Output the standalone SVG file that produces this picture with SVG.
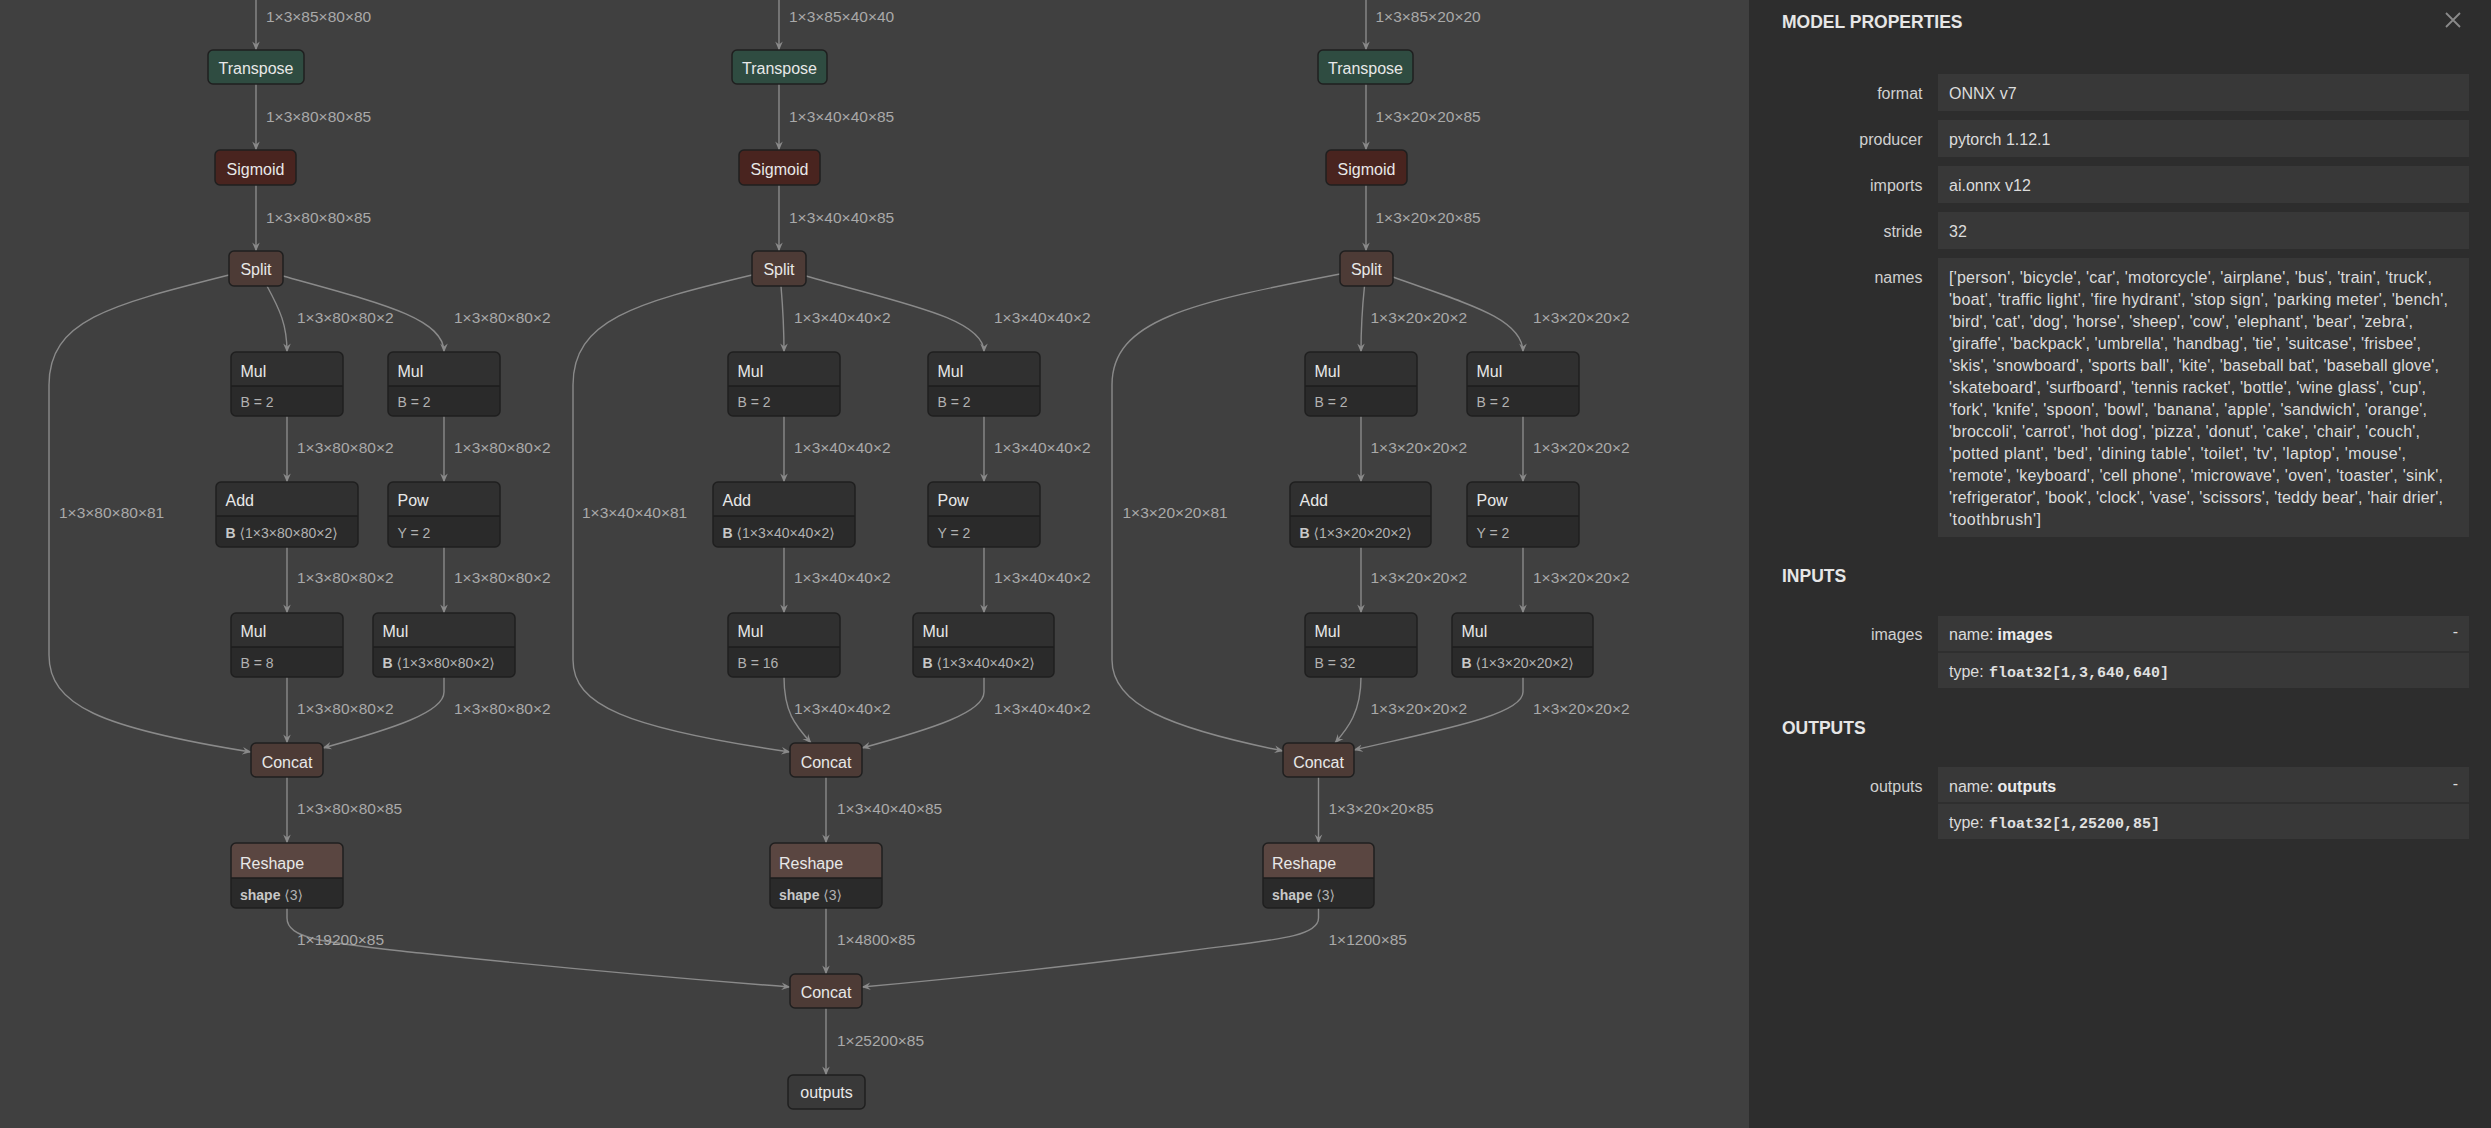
<svg xmlns="http://www.w3.org/2000/svg" width="2491" height="1128" viewBox="0 0 2491 1128">
<defs>
<style>
.bg{fill:#404040}
.e{fill:none;stroke:#8a8a8a;stroke-width:1.4;marker-end:url(#arr)}
.el{font-family:"Liberation Sans","DejaVu Sans",Arial,sans-serif;font-size:15.5px;fill:#a9a9a9}
.bd{fill:none;stroke:#1f1f1f;stroke-width:1.5}
.tr{fill:#2f4c41;stroke:#1f1f1f;stroke-width:1.5}
.sg{fill:#49241f;stroke:#1f1f1f;stroke-width:1.5}
.sh{fill:#4d3b36;stroke:#1f1f1f;stroke-width:1.5}
.io{fill:#393939;stroke:#1f1f1f;stroke-width:1.5}
.body{fill:#2a2a2a}
.hd{fill:#303030}
.hs{fill:#5a4641}
.sep{stroke:#1c1c1c;stroke-width:1.5}
.t{font-family:"Liberation Sans","DejaVu Sans",Arial,sans-serif;font-size:16px;fill:#e8e8e8}
.tc{text-anchor:middle}
.a{font-family:"Liberation Sans","DejaVu Sans",Arial,sans-serif;font-size:14px;fill:#b2b2b2}
.ab{font-weight:bold;fill:#c8c8c8}
.panel{fill:#2d2d2d}
.vb{fill:#383838}
.ph{font-family:"Liberation Sans","DejaVu Sans",Arial,sans-serif;font-size:17.5px;font-weight:bold;fill:#e6e6e6}
.pl{font-family:"Liberation Sans","DejaVu Sans",Arial,sans-serif;font-size:16px;fill:#d0d0d0;text-anchor:end}
.pv{font-family:"Liberation Sans","DejaVu Sans",Arial,sans-serif;font-size:16px;fill:#dcdcdc}
.pm{font-family:"Liberation Mono","DejaVu Sans Mono",monospace;font-size:15px;font-weight:bold;fill:#e0e0e0}
.psep{stroke:#2d2d2d;stroke-width:1.5}
</style>
<marker id="arr" viewBox="0 0 10 10" refX="9.5" refY="5" markerWidth="9" markerHeight="9" markerUnits="userSpaceOnUse" orient="auto">
<path d="M0,0.8 L10,5 L0,9.2 L3.5,5 Z" fill="#8a8a8a"/>
</marker>
</defs>
<rect class="bg" x="0" y="0" width="2491" height="1128"/>

<g id="connectors">
<path class="e" d="M256,0 V50"/>
<path class="e" d="M256,84 V150"/>
<path class="e" d="M256,185 V251"/>
<path class="e" d="M267,286 C280,310 287,325 287,352"/>
<path class="e" d="M283,276 C380,303 444,318 444,352"/>
<path class="e" d="M229,275 C110,305 49,320 49,385 V655 C49,705 100,728 251,752"/>
<path class="e" d="M287,416 V482"/>
<path class="e" d="M444,416 V482"/>
<path class="e" d="M287,547 V613"/>
<path class="e" d="M444,547 V613"/>
<path class="e" d="M287,677 V743"/>
<path class="e" d="M444,677 V692 C444,712 395,728 323,748"/>
<path class="e" d="M287,777 V843"/>
<path class="e" d="M287,908 V918 C287,940 330,943 420,953 C560,968 700,980 790,987"/>
<path class="e" d="M779,0 V50"/>
<path class="e" d="M779,84 V150"/>
<path class="e" d="M779,185 V251"/>
<path class="e" d="M781,286 C783,310 784,330 784,352"/>
<path class="e" d="M806,276 C900,303 984,318 984,352"/>
<path class="e" d="M752,275 C635,303 573,320 573,385 V660 C573,705 625,728 790,752"/>
<path class="e" d="M784,416 V482"/>
<path class="e" d="M984,416 V482"/>
<path class="e" d="M784,547 V613"/>
<path class="e" d="M984,547 V613"/>
<path class="e" d="M784,677 C784,712 795,725 811,743"/>
<path class="e" d="M984,677 V692 C984,712 935,728 862,748"/>
<path class="e" d="M826,777 V843"/>
<path class="e" d="M826,908 V974"/>
<path class="e" d="M826,1008 V1075"/>
<path class="e" d="M1366,0 V50"/>
<path class="e" d="M1366,84 V150"/>
<path class="e" d="M1366,185 V251"/>
<path class="e" d="M1364.5,286 C1362,310 1361,330 1361,352"/>
<path class="e" d="M1393,277 C1465,303 1523,318 1523,352"/>
<path class="e" d="M1340,274 C1190,303 1112,320 1112,385 V660 C1112,705 1170,728 1283,751"/>
<path class="e" d="M1361,416 V482"/>
<path class="e" d="M1523,416 V482"/>
<path class="e" d="M1361,547 V613"/>
<path class="e" d="M1523,547 V613"/>
<path class="e" d="M1361,677 C1361,712 1348,728 1335,743"/>
<path class="e" d="M1523,677 V692 C1523,715 1440,730 1354,750"/>
<path class="e" d="M1318.5,777 V843"/>
<path class="e" d="M1318.5,908 V918 C1318.5,938 1270,940 1180,952 C1040,970 940,980 862,987"/>
</g>

<g id="edge-labels">
<text class="el" x="266" y="22">1×3×85×80×80</text>
<text class="el" x="266" y="122">1×3×80×80×85</text>
<text class="el" x="266" y="223">1×3×80×80×85</text>
<text class="el" x="297" y="323">1×3×80×80×2</text>
<text class="el" x="454" y="323">1×3×80×80×2</text>
<text class="el" x="297" y="453">1×3×80×80×2</text>
<text class="el" x="454" y="453">1×3×80×80×2</text>
<text class="el" x="59" y="518">1×3×80×80×81</text>
<text class="el" x="297" y="583">1×3×80×80×2</text>
<text class="el" x="454" y="583">1×3×80×80×2</text>
<text class="el" x="297" y="714">1×3×80×80×2</text>
<text class="el" x="454" y="714">1×3×80×80×2</text>
<text class="el" x="297" y="814">1×3×80×80×85</text>
<text class="el" x="297" y="945">1×19200×85</text>

<text class="el" x="789" y="22">1×3×85×40×40</text>
<text class="el" x="789" y="122">1×3×40×40×85</text>
<text class="el" x="789" y="223">1×3×40×40×85</text>
<text class="el" x="794" y="323">1×3×40×40×2</text>
<text class="el" x="994" y="323">1×3×40×40×2</text>
<text class="el" x="794" y="453">1×3×40×40×2</text>
<text class="el" x="994" y="453">1×3×40×40×2</text>
<text class="el" x="582" y="518">1×3×40×40×81</text>
<text class="el" x="794" y="583">1×3×40×40×2</text>
<text class="el" x="994" y="583">1×3×40×40×2</text>
<text class="el" x="794" y="714">1×3×40×40×2</text>
<text class="el" x="994" y="714">1×3×40×40×2</text>
<text class="el" x="837" y="814">1×3×40×40×85</text>
<text class="el" x="837" y="945">1×4800×85</text>
<text class="el" x="837" y="1046">1×25200×85</text>

<text class="el" x="1375.5" y="22">1×3×85×20×20</text>
<text class="el" x="1375.5" y="122">1×3×20×20×85</text>
<text class="el" x="1375.5" y="223">1×3×20×20×85</text>
<text class="el" x="1370.5" y="323">1×3×20×20×2</text>
<text class="el" x="1533" y="323">1×3×20×20×2</text>
<text class="el" x="1370.5" y="453">1×3×20×20×2</text>
<text class="el" x="1533" y="453">1×3×20×20×2</text>
<text class="el" x="1122.5" y="518">1×3×20×20×81</text>
<text class="el" x="1370.5" y="583">1×3×20×20×2</text>
<text class="el" x="1533" y="583">1×3×20×20×2</text>
<text class="el" x="1370.5" y="714">1×3×20×20×2</text>
<text class="el" x="1533" y="714">1×3×20×20×2</text>
<text class="el" x="1328.5" y="814">1×3×20×20×85</text>
<text class="el" x="1328.5" y="945">1×1200×85</text>
</g>

<g id="transpose_0"><rect class="tr" x="208" y="50" width="96" height="34" rx="5"/><text class="t tc" x="256" y="74">Transpose</text></g>
<g id="sigmoid_0"><rect class="sg" x="215" y="150" width="81" height="35" rx="5"/><text class="t tc" x="255.5" y="175">Sigmoid</text></g>
<g id="split_0"><rect class="sh" x="229" y="251" width="54" height="35" rx="5"/><text class="t tc" x="256" y="275">Split</text></g>
<g id="mul_0a"><rect class="body" x="231" y="352" width="112" height="64" rx="5"/><path class="hd" d="M231,386 V357 Q231,352 236,352 H338 Q343,352 343,357 V386 Z"/><line class="sep" x1="231" y1="386" x2="343" y2="386"/><rect class="bd" x="231" y="352" width="112" height="64" rx="5"/><text class="t" x="240.5" y="377">Mul</text><text class="a" x="240.5" y="407">B = 2</text></g>
<g id="mul_0b"><rect class="body" x="388" y="352" width="112" height="64" rx="5"/><path class="hd" d="M388,386 V357 Q388,352 393,352 H495 Q500,352 500,357 V386 Z"/><line class="sep" x1="388" y1="386" x2="500" y2="386"/><rect class="bd" x="388" y="352" width="112" height="64" rx="5"/><text class="t" x="397.5" y="377">Mul</text><text class="a" x="397.5" y="407">B = 2</text></g>
<g id="add_0"><rect class="body" x="216" y="482" width="142" height="65" rx="5"/><path class="hd" d="M216,516 V487 Q216,482 221,482 H353 Q358,482 358,487 V516 Z"/><line class="sep" x1="216" y1="516" x2="358" y2="516"/><rect class="bd" x="216" y="482" width="142" height="65" rx="5"/><text class="t" x="225.5" y="506">Add</text><text class="a" x="225.5" y="537.5"><tspan class="ab">B</tspan> ⟨1×3×80×80×2⟩</text></g>
<g id="pow_0"><rect class="body" x="388" y="482" width="112" height="65" rx="5"/><path class="hd" d="M388,516 V487 Q388,482 393,482 H495 Q500,482 500,487 V516 Z"/><line class="sep" x1="388" y1="516" x2="500" y2="516"/><rect class="bd" x="388" y="482" width="112" height="65" rx="5"/><text class="t" x="397.5" y="506">Pow</text><text class="a" x="397.5" y="537.5">Y = 2</text></g>
<g id="mul_0c"><rect class="body" x="231" y="613" width="112" height="64" rx="5"/><path class="hd" d="M231,647 V618 Q231,613 236,613 H338 Q343,613 343,618 V647 Z"/><line class="sep" x1="231" y1="647" x2="343" y2="647"/><rect class="bd" x="231" y="613" width="112" height="64" rx="5"/><text class="t" x="240.5" y="637">Mul</text><text class="a" x="240.5" y="668">B = 8</text></g>
<g id="mul_0d"><rect class="body" x="373" y="613" width="142" height="64" rx="5"/><path class="hd" d="M373,647 V618 Q373,613 378,613 H510 Q515,613 515,618 V647 Z"/><line class="sep" x1="373" y1="647" x2="515" y2="647"/><rect class="bd" x="373" y="613" width="142" height="64" rx="5"/><text class="t" x="382.5" y="637">Mul</text><text class="a" x="382.5" y="668"><tspan class="ab">B</tspan> ⟨1×3×80×80×2⟩</text></g>
<g id="concat_0"><rect class="sh" x="251" y="743" width="72" height="34" rx="5"/><text class="t tc" x="287" y="767.5">Concat</text></g>
<g id="reshape_0"><rect class="body" x="231" y="843" width="112" height="65" rx="5"/><path class="hs" d="M231,878 V848 Q231,843 236,843 H338 Q343,843 343,848 V878 Z"/><line class="sep" x1="231" y1="878" x2="343" y2="878"/><rect class="bd" x="231" y="843" width="112" height="65" rx="5"/><text class="t" x="240" y="869">Reshape</text><text class="a" x="240" y="900"><tspan class="ab">shape</tspan> ⟨3⟩</text></g>

<g id="transpose_1"><rect class="tr" x="732" y="50" width="95" height="34" rx="5"/><text class="t tc" x="779.5" y="74">Transpose</text></g>
<g id="sigmoid_1"><rect class="sg" x="739" y="150" width="81" height="35" rx="5"/><text class="t tc" x="779.5" y="175">Sigmoid</text></g>
<g id="split_1"><rect class="sh" x="752" y="251" width="54" height="35" rx="5"/><text class="t tc" x="779" y="275">Split</text></g>
<g id="mul_1a"><rect class="body" x="728" y="352" width="112" height="64" rx="5"/><path class="hd" d="M728,386 V357 Q728,352 733,352 H835 Q840,352 840,357 V386 Z"/><line class="sep" x1="728" y1="386" x2="840" y2="386"/><rect class="bd" x="728" y="352" width="112" height="64" rx="5"/><text class="t" x="737.5" y="377">Mul</text><text class="a" x="737.5" y="407">B = 2</text></g>
<g id="mul_1b"><rect class="body" x="928" y="352" width="112" height="64" rx="5"/><path class="hd" d="M928,386 V357 Q928,352 933,352 H1035 Q1040,352 1040,357 V386 Z"/><line class="sep" x1="928" y1="386" x2="1040" y2="386"/><rect class="bd" x="928" y="352" width="112" height="64" rx="5"/><text class="t" x="937.5" y="377">Mul</text><text class="a" x="937.5" y="407">B = 2</text></g>
<g id="add_1"><rect class="body" x="713" y="482" width="142" height="65" rx="5"/><path class="hd" d="M713,516 V487 Q713,482 718,482 H850 Q855,482 855,487 V516 Z"/><line class="sep" x1="713" y1="516" x2="855" y2="516"/><rect class="bd" x="713" y="482" width="142" height="65" rx="5"/><text class="t" x="722.5" y="506">Add</text><text class="a" x="722.5" y="537.5"><tspan class="ab">B</tspan> ⟨1×3×40×40×2⟩</text></g>
<g id="pow_1"><rect class="body" x="928" y="482" width="112" height="65" rx="5"/><path class="hd" d="M928,516 V487 Q928,482 933,482 H1035 Q1040,482 1040,487 V516 Z"/><line class="sep" x1="928" y1="516" x2="1040" y2="516"/><rect class="bd" x="928" y="482" width="112" height="65" rx="5"/><text class="t" x="937.5" y="506">Pow</text><text class="a" x="937.5" y="537.5">Y = 2</text></g>
<g id="mul_1c"><rect class="body" x="728" y="613" width="112" height="64" rx="5"/><path class="hd" d="M728,647 V618 Q728,613 733,613 H835 Q840,613 840,618 V647 Z"/><line class="sep" x1="728" y1="647" x2="840" y2="647"/><rect class="bd" x="728" y="613" width="112" height="64" rx="5"/><text class="t" x="737.5" y="637">Mul</text><text class="a" x="737.5" y="668">B = 16</text></g>
<g id="mul_1d"><rect class="body" x="913" y="613" width="141" height="64" rx="5"/><path class="hd" d="M913,647 V618 Q913,613 918,613 H1049 Q1054,613 1054,618 V647 Z"/><line class="sep" x1="913" y1="647" x2="1054" y2="647"/><rect class="bd" x="913" y="613" width="141" height="64" rx="5"/><text class="t" x="922.5" y="637">Mul</text><text class="a" x="922.5" y="668"><tspan class="ab">B</tspan> ⟨1×3×40×40×2⟩</text></g>
<g id="concat_1"><rect class="sh" x="790" y="743" width="72" height="34" rx="5"/><text class="t tc" x="826" y="767.5">Concat</text></g>
<g id="reshape_1"><rect class="body" x="770" y="843" width="112" height="65" rx="5"/><path class="hs" d="M770,878 V848 Q770,843 775,843 H877 Q882,843 882,848 V878 Z"/><line class="sep" x1="770" y1="878" x2="882" y2="878"/><rect class="bd" x="770" y="843" width="112" height="65" rx="5"/><text class="t" x="779" y="869">Reshape</text><text class="a" x="779" y="900"><tspan class="ab">shape</tspan> ⟨3⟩</text></g>
<g id="concat_final"><rect class="sh" x="790" y="974" width="72" height="34" rx="5"/><text class="t tc" x="826" y="998">Concat</text></g>
<g id="outputs"><rect class="io" x="788" y="1075" width="77" height="34" rx="5"/><text class="t tc" x="826.5" y="1098">outputs</text></g>

<g id="transpose_2"><rect class="tr" x="1318" y="50" width="95" height="34" rx="5"/><text class="t tc" x="1365.5" y="74">Transpose</text></g>
<g id="sigmoid_2"><rect class="sg" x="1326" y="150" width="81" height="35" rx="5"/><text class="t tc" x="1366.5" y="175">Sigmoid</text></g>
<g id="split_2"><rect class="sh" x="1340" y="251" width="53" height="35" rx="5"/><text class="t tc" x="1366.5" y="275">Split</text></g>
<g id="mul_2a"><rect class="body" x="1305" y="352" width="112" height="64" rx="5"/><path class="hd" d="M1305,386 V357 Q1305,352 1310,352 H1412 Q1417,352 1417,357 V386 Z"/><line class="sep" x1="1305" y1="386" x2="1417" y2="386"/><rect class="bd" x="1305" y="352" width="112" height="64" rx="5"/><text class="t" x="1314.5" y="377">Mul</text><text class="a" x="1314.5" y="407">B = 2</text></g>
<g id="mul_2b"><rect class="body" x="1467" y="352" width="112" height="64" rx="5"/><path class="hd" d="M1467,386 V357 Q1467,352 1472,352 H1574 Q1579,352 1579,357 V386 Z"/><line class="sep" x1="1467" y1="386" x2="1579" y2="386"/><rect class="bd" x="1467" y="352" width="112" height="64" rx="5"/><text class="t" x="1476.5" y="377">Mul</text><text class="a" x="1476.5" y="407">B = 2</text></g>
<g id="add_2"><rect class="body" x="1290" y="482" width="141" height="65" rx="5"/><path class="hd" d="M1290,516 V487 Q1290,482 1295,482 H1426 Q1431,482 1431,487 V516 Z"/><line class="sep" x1="1290" y1="516" x2="1431" y2="516"/><rect class="bd" x="1290" y="482" width="141" height="65" rx="5"/><text class="t" x="1299.5" y="506">Add</text><text class="a" x="1299.5" y="537.5"><tspan class="ab">B</tspan> ⟨1×3×20×20×2⟩</text></g>
<g id="pow_2"><rect class="body" x="1467" y="482" width="112" height="65" rx="5"/><path class="hd" d="M1467,516 V487 Q1467,482 1472,482 H1574 Q1579,482 1579,487 V516 Z"/><line class="sep" x1="1467" y1="516" x2="1579" y2="516"/><rect class="bd" x="1467" y="482" width="112" height="65" rx="5"/><text class="t" x="1476.5" y="506">Pow</text><text class="a" x="1476.5" y="537.5">Y = 2</text></g>
<g id="mul_2c"><rect class="body" x="1305" y="613" width="112" height="64" rx="5"/><path class="hd" d="M1305,647 V618 Q1305,613 1310,613 H1412 Q1417,613 1417,618 V647 Z"/><line class="sep" x1="1305" y1="647" x2="1417" y2="647"/><rect class="bd" x="1305" y="613" width="112" height="64" rx="5"/><text class="t" x="1314.5" y="637">Mul</text><text class="a" x="1314.5" y="668">B = 32</text></g>
<g id="mul_2d"><rect class="body" x="1452" y="613" width="141" height="64" rx="5"/><path class="hd" d="M1452,647 V618 Q1452,613 1457,613 H1588 Q1593,613 1593,618 V647 Z"/><line class="sep" x1="1452" y1="647" x2="1593" y2="647"/><rect class="bd" x="1452" y="613" width="141" height="64" rx="5"/><text class="t" x="1461.5" y="637">Mul</text><text class="a" x="1461.5" y="668"><tspan class="ab">B</tspan> ⟨1×3×20×20×2⟩</text></g>
<g id="concat_2"><rect class="sh" x="1283" y="743" width="71" height="34" rx="5"/><text class="t tc" x="1318.5" y="767.5">Concat</text></g>
<g id="reshape_2"><rect class="body" x="1263" y="843" width="111" height="65" rx="5"/><path class="hs" d="M1263,878 V848 Q1263,843 1268,843 H1369 Q1374,843 1374,848 V878 Z"/><line class="sep" x1="1263" y1="878" x2="1374" y2="878"/><rect class="bd" x="1263" y="843" width="111" height="65" rx="5"/><text class="t" x="1272" y="869">Reshape</text><text class="a" x="1272" y="900"><tspan class="ab">shape</tspan> ⟨3⟩</text></g>

<g id="model-properties">
<rect class="panel" x="1749" y="0" width="742" height="1128"/>
<text class="ph" x="1782" y="28">MODEL PROPERTIES</text>
<path d="M2446,13 L2460,27 M2460,13 L2446,27" stroke="#8a8a8a" stroke-width="1.8" fill="none"/>
<text class="pl" x="1922.5" y="99">format</text>
<rect class="vb" x="1938" y="74" width="531" height="37"/>
<text class="pv" x="1949" y="99">ONNX v7</text>
<text class="pl" x="1922.5" y="145">producer</text>
<rect class="vb" x="1938" y="120" width="531" height="37"/>
<text class="pv" x="1949" y="145">pytorch 1.12.1</text>
<text class="pl" x="1922.5" y="191">imports</text>
<rect class="vb" x="1938" y="166" width="531" height="37"/>
<text class="pv" x="1949" y="191">ai.onnx v12</text>
<text class="pl" x="1922.5" y="237">stride</text>
<rect class="vb" x="1938" y="212" width="531" height="37"/>
<text class="pv" x="1949" y="237">32</text>
<text class="pl" x="1922.5" y="283">names</text>
<rect class="vb" x="1938" y="258" width="531" height="279"/>
<text class="pv" x="1949" y="283" textLength="483">['person', 'bicycle', 'car', 'motorcycle', 'airplane', 'bus', 'train', 'truck',</text>
<text class="pv" x="1949" y="305" textLength="499">'boat', 'traffic light', 'fire hydrant', 'stop sign', 'parking meter', 'bench',</text>
<text class="pv" x="1949" y="327" textLength="464">'bird', 'cat', 'dog', 'horse', 'sheep', 'cow', 'elephant', 'bear', 'zebra',</text>
<text class="pv" x="1949" y="349" textLength="472">'giraffe', 'backpack', 'umbrella', 'handbag', 'tie', 'suitcase', 'frisbee',</text>
<text class="pv" x="1949" y="371" textLength="490">'skis', 'snowboard', 'sports ball', 'kite', 'baseball bat', 'baseball glove',</text>
<text class="pv" x="1949" y="393" textLength="477">'skateboard', 'surfboard', 'tennis racket', 'bottle', 'wine glass', 'cup',</text>
<text class="pv" x="1949" y="415" textLength="478">'fork', 'knife', 'spoon', 'bowl', 'banana', 'apple', 'sandwich', 'orange',</text>
<text class="pv" x="1949" y="437" textLength="471">'broccoli', 'carrot', 'hot dog', 'pizza', 'donut', 'cake', 'chair', 'couch',</text>
<text class="pv" x="1949" y="459" textLength="457">'potted plant', 'bed', 'dining table', 'toilet', 'tv', 'laptop', 'mouse',</text>
<text class="pv" x="1949" y="481" textLength="494">'remote', 'keyboard', 'cell phone', 'microwave', 'oven', 'toaster', 'sink',</text>
<text class="pv" x="1949" y="503" textLength="494">'refrigerator', 'book', 'clock', 'vase', 'scissors', 'teddy bear', 'hair drier',</text>
<text class="pv" x="1949" y="525" textLength="92">'toothbrush']</text>
</g>

<g id="inputs">
<text class="ph" x="1782" y="582">INPUTS</text>
<text class="pl" x="1922.5" y="640">images</text>
<rect class="vb" x="1938" y="616" width="531" height="72"/>
<line class="psep" x1="1938" y1="652" x2="2469" y2="652"/>
<text class="pv" x="1949" y="640">name: <tspan x="1997.5" font-weight="bold" fill="#ececec">images</tspan></text>
<text class="pv" x="2455.5" y="637" text-anchor="middle" fill="#9a9a9a">-</text>
<text class="pv" x="1949" y="677">type: </text>
<text class="pm" x="1989" y="677">float32[1,3,640,640]</text>
</g>

<g id="outputs-panel">
<text class="ph" x="1782" y="734">OUTPUTS</text>
<text class="pl" x="1922.5" y="792">outputs</text>
<rect class="vb" x="1938" y="767" width="531" height="72"/>
<line class="psep" x1="1938" y1="803" x2="2469" y2="803"/>
<text class="pv" x="1949" y="792">name: <tspan x="1997.5" font-weight="bold" fill="#ececec">outputs</tspan></text>
<text class="pv" x="2455.5" y="789" text-anchor="middle" fill="#9a9a9a">-</text>
<text class="pv" x="1949" y="828">type: </text>
<text class="pm" x="1989" y="828">float32[1,25200,85]</text>
</g>
</svg>
